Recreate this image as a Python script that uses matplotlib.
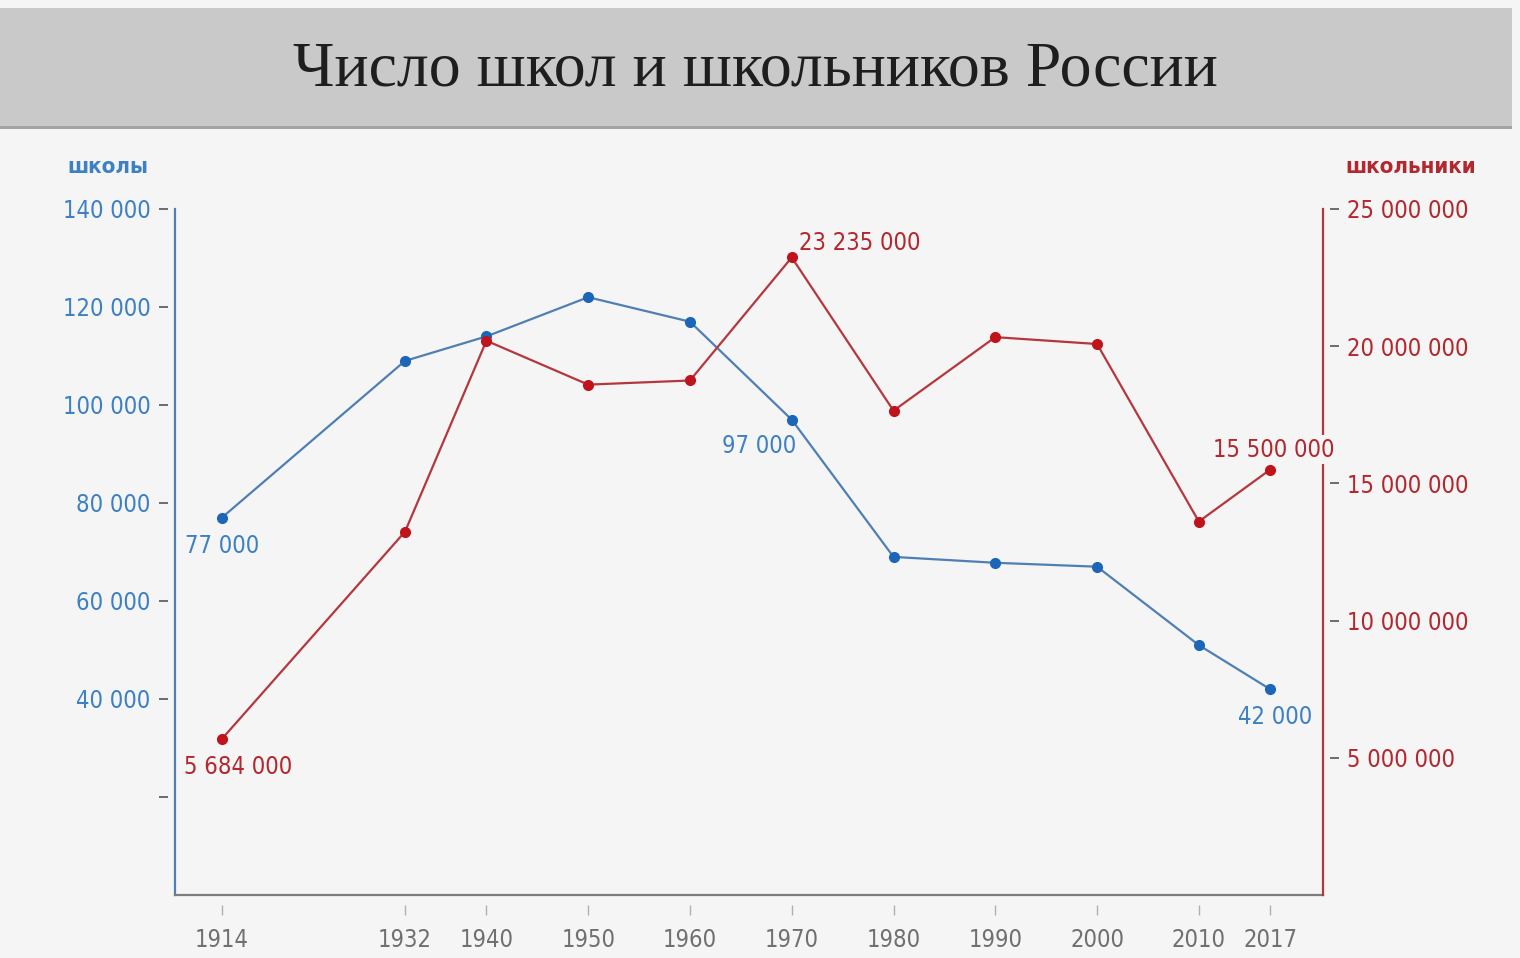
import matplotlib
matplotlib.use("Agg")
import matplotlib.pyplot as plt
from matplotlib.patches import Rectangle

plt.rcParams['font.family'] = ['DejaVu Sans']
plt.rcParams['font.stretch'] = 'condensed'

# Data
years = [1914, 1932, 1940, 1950, 1960, 1970, 1980, 1990, 2000, 2010, 2017]
schools = [77000, 109000, 114000, 122000, 117000, 97000, 69000, 67800, 67000, 51000, 42000]
pupils = [5684000, 13240000, 20200000, 18600000, 18750000, 23235000,
          17650000, 20330000, 20080000, 13610000, 15500000]

left_ticks = [20000, 40000, 60000, 80000, 100000, 120000, 140000]
left_labels = ["", "40 000", "60 000", "80 000", "100 000", "120 000", "140 000"]
right_ticks = [5000000, 10000000, 15000000, 20000000, 25000000]
right_labels = ["5 000 000", "10 000 000", "15 000 000", "20 000 000", "25 000 000"]

# labelled points: (index, text, offset in pixels)
school_notes = [(0, "77 000", (0, -28)), (5, "97 000", (-33, -26)), (10, "42 000", (5, -28))]
pupil_notes = [(0, "5 684 000", (16, -28)), (5, "23 235 000", (68, 14)), (10, "15 500 000", (4, 20))]

bg = "#f5f5f5"
blue_mark = "#1b66b8"
blue_line = "#4f7fb3"
blue_text = "#3d80c4"
red_mark = "#c0141c"
red_line = "#b5373e"
red_text = "#b3282f"
grey = "#7d7d7d"

fig = plt.figure(figsize=(15.2, 9.58), dpi=100, facecolor=bg)

# title bar
fig.add_artist(Rectangle((0, 1 - 128 / 958), 1512 / 1520, 120 / 958,
                         transform=fig.transFigure, facecolor="#c9c9c9", edgecolor="none"))
fig.add_artist(Rectangle((0, 1 - 129 / 958), 1512 / 1520, 3 / 958,
                         transform=fig.transFigure, facecolor="#a3a3a3", edgecolor="none"))
fig.text(755 / 1520, 1 - 70 / 958, "Число школ и школьников России", ha="center", va="center",
         fontsize=46, color="#1e1e1e", family=["Liberation Serif", "DejaVu Serif"],
         fontstretch="normal")

ax = fig.add_axes([175 / 1520, 1 - 895 / 958, (1323 - 175) / 1520, (895 - 209) / 958])
ax.set_facecolor("none")
ax2 = ax.twinx()

xlim = (1909.4, 2022.2)
ax.set_xlim(xlim)
ax.set_ylim(0, 140000)
ax2.set_ylim(0, 25000000)

for a in (ax, ax2):
    for s in a.spines.values():
        s.set_visible(False)
ax.spines["left"].set_position(("outward", 5))
ax.spines["bottom"].set_position(("outward", 7))
ax2.spines["right"].set_position(("outward", 5))

# axis lines drawn separately so ticks stand apart from them
ax.axvline(xlim[0], color=blue_line, lw=1.6, clip_on=False, zorder=1)
ax.axhline(0, color=grey, lw=1.6, clip_on=False, zorder=1)
ax2.axvline(xlim[1], color=red_line, lw=1.6, clip_on=False, zorder=1)

ax.set_xticks(years)
ax.set_xticklabels([str(y) for y in years])
ax.tick_params(axis="x", length=7, width=1, color="#b0b0b0", labelcolor="#707070",
               labelsize=17, pad=10)
ax.set_yticks(left_ticks)
ax.set_yticklabels(left_labels)
ax.tick_params(axis="y", length=6.5, width=1.2, color="#555555", labelcolor=blue_text,
               labelsize=17, pad=6)
ax2.set_yticks(right_ticks)
ax2.set_yticklabels(right_labels)
ax2.tick_params(axis="y", length=6.5, width=1.2, color="#555555", labelcolor=red_text,
                labelsize=17, pad=6)

ax.plot(years, schools, color=blue_line, lw=1.6, zorder=2)
ax.plot(years, schools, "o", color=blue_mark, ms=7, zorder=3)
ax2.plot(years, pupils, color=red_line, lw=1.6, zorder=2)
ax2.plot(years, pupils, "o", color=red_mark, ms=7, zorder=3)

for i, txt, off in school_notes:
    ax.annotate(txt, (years[i], schools[i]), xytext=off, textcoords="offset pixels",
                ha="center", va="center", fontsize=17, color=blue_text)
for i, txt, off in pupil_notes:
    box = None
    if i == len(years) - 1:
        # this label sits over the right axis line and breaks it
        box = dict(boxstyle="square,pad=0.1", facecolor=bg, edgecolor="none")
    ax2.annotate(txt, (years[i], pupils[i]), xytext=off, textcoords="offset pixels",
                 ha="center", va="center", fontsize=17, color=red_text, zorder=5, bbox=box)

fig.text(108 / 1520, 1 - 167 / 958, "школы", ha="center", va="center",
         fontsize=16, fontweight="bold", color=blue_text)
fig.text(1411 / 1520, 1 - 167 / 958, "школьники", ha="center", va="center",
         fontsize=16, fontweight="bold", color=red_text)

fig.savefig("out.png", dpi=100, facecolor=bg)
